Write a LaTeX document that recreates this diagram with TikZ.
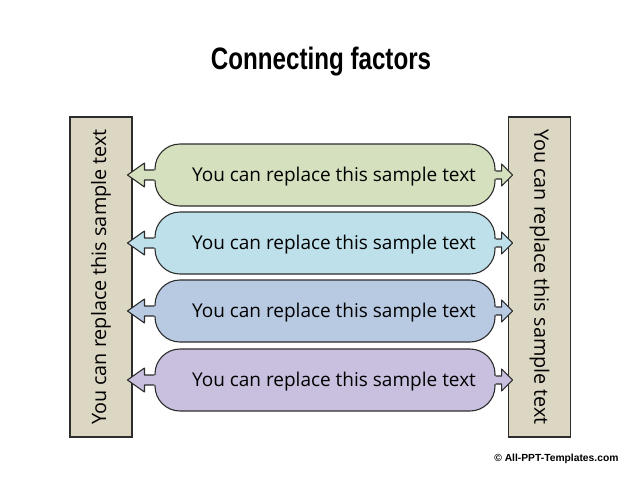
\documentclass[tikz,border=0pt]{standalone}
\usepackage{fontspec}
\setmainfont{Open Sans}
\newfontfamily\titlefont{Liberation Sans}
\newfontfamily\copyfont{Liberation Sans}
\definecolor{barfill}{RGB}{220,215,195}
\definecolor{edge}{RGB}{45,45,45}
\definecolor{rowA}{RGB}{213,224,190}
\definecolor{rowB}{RGB}{190,224,234}
\definecolor{rowC}{RGB}{183,202,226}
\definecolor{rowD}{RGB}{200,192,222}
\tikzset{
  sidebar/.style={draw=edge, line width=1.1pt, fill=barfill, minimum width=62pt, minimum height=320pt, inner sep=0pt},
  pill/.style={draw=edge, line width=1.1pt, rounded corners=25pt, minimum width=340pt, minimum height=62pt, inner sep=0pt},
  pilltext/.style={font=\fontsize{19}{22}\selectfont},
  sidetext/.style={font=\fontsize{19.8}{23}\selectfont},
}
\newcommand{\rowpill}[3]{%
  \node[pill, fill=#2] (#1) at (325,#3) {};
  \fill[#2] (#1.west)++(4,-5) -- ++(-14,0) -- ++(0,-7) -- ++(-17,12) -- ++(17,12) -- ++(0,-7) -- ++(14,0) -- cycle;
  \draw[edge, line width=1.1pt, line join=round] (#1.west)++(0,-5) -- ++(-10,0) -- ++(0,-7) -- ++(-17,12) coordinate (#1-lt) -- ++(17,12) -- ++(0,-7) -- ++(10,0);
  \fill[#2] (#1.east)++(-4,-4) -- ++(10,0) -- ++(0,-7) -- ++(11,11) -- ++(-11,11) -- ++(0,-7) -- ++(-10,0) -- cycle;
  \draw[edge, line width=1.1pt, line join=round] (#1.east)++(0,-4) -- ++(6,0) -- ++(0,-7) -- ++(11,11) coordinate (#1-rt) -- ++(-11,11) -- ++(0,-7) -- ++(-6,0);
  \node[pilltext] (#1-t) at ([xshift=9pt,yshift=-2pt]#1.center) {You can replace this sample text};
}
\begin{document}
\begin{tikzpicture}[x=1pt,y=-1pt]
\useasboundingbox (0,0) rectangle (640,480);
\node[font=\titlefont\bfseries\fontsize{31}{36}\selectfont] (title) at (321,62) {\scalebox{0.78}[1]{Connecting factors}};
\node[sidebar] (lbar) at (101,277) {};
\node[sidebar] (rbar) at (539.5,277) {};
\node[sidetext, rotate=90] (ltext) at (lbar.center) {You can replace this sample text};
\node[sidetext, rotate=-90] (rtext) at (rbar.center) {You can replace this sample text};
\rowpill{r1}{rowA}{175}
\rowpill{r2}{rowB}{243}
\rowpill{r3}{rowC}{311}
\rowpill{r4}{rowD}{380}
\node[font=\copyfont\bfseries\fontsize{10.3}{12}\selectfont, anchor=east] (copy) at (622,459) {\textcopyright{} All-PPT-Templates.com};
\end{tikzpicture}
\end{document}
